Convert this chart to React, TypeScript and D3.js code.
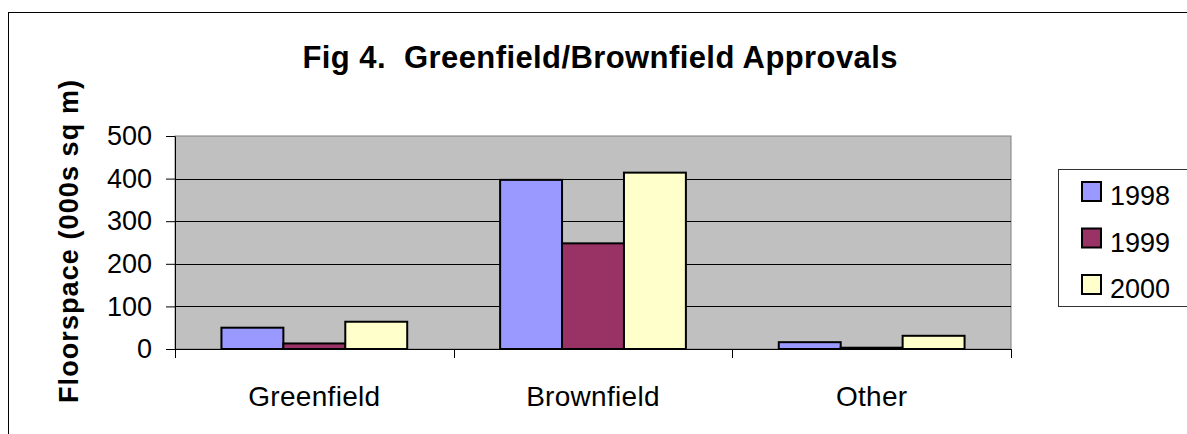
import * as React from "react";
import * as d3 from "d3";

const categories = ["Greenfield", "Brownfield", "Other"];
const years = ["1998", "1999", "2000"];
const values1998 = [50, 397, 16];
const values1999 = [13, 248, 3];
const values2000 = [64, 414, 31];
const yTicks = [0, 100, 200, 300, 400, 500];
const yearColors = ["#9999ff", "#993366", "#ffffcc"];

export default function App() {
  const ref = React.useRef<SVGSVGElement>(null);

  React.useEffect(() => {
    const svg = d3.select(ref.current);
    svg.selectAll("*").remove();

    const font = "Arial, 'Liberation Sans', sans-serif";
    const left = 175;
    const right = 1011;
    const top = 136;
    const bottom = 349;
    const series = [values1998, values1999, values2000];

    const x = d3.scaleBand().domain(categories).range([left, right]);
    const xs = d3
      .scaleBand()
      .domain(years)
      .range([0, x.bandwidth()])
      .paddingOuter(0.75);
    const y = d3.scaleLinear().domain([0, 500]).range([bottom, top]);

    // outer frame
    svg
      .append("rect")
      .attr("x", 8.5)
      .attr("y", 12.5)
      .attr("width", 1300)
      .attr("height", 600)
      .attr("fill", "white")
      .attr("stroke", "black");

    // plot area
    svg
      .append("rect")
      .attr("x", left)
      .attr("y", top)
      .attr("width", right - left)
      .attr("height", bottom - top)
      .attr("fill", "#c0c0c0")
      .attr("stroke", "#808080");

    svg
      .append("g")
      .selectAll("line")
      .data(yTicks.filter((t) => t > 0 && t < 500))
      .enter()
      .append("line")
      .attr("x1", left)
      .attr("x2", right)
      .attr("y1", (d) => Math.round(y(d)) + 0.5)
      .attr("y2", (d) => Math.round(y(d)) + 0.5)
      .attr("stroke", "black");

    // bars
    categories.forEach((c, ci) => {
      years.forEach((yr, si) => {
        const v = series[si][ci];
        svg
          .append("rect")
          .attr("x", x(c)! + xs(yr)!)
          .attr("y", y(v))
          .attr("width", xs.bandwidth())
          .attr("height", bottom - y(v))
          .attr("fill", yearColors[si])
          .attr("stroke", "black")
          .attr("stroke-width", 2);
      });
    });

    // y axis
    const yAxis = svg
      .append("g")
      .attr("transform", `translate(${left},0)`)
      .call(
        d3
          .axisLeft(y)
          .tickValues(yTicks)
          .tickSize(9)
          .tickSizeOuter(0)
          .tickPadding(14)
      );
    yAxis.selectAll("path, line").attr("stroke", "black");
    yAxis
      .selectAll("text")
      .attr("font-family", font)
      .attr("font-size", 27)
      .attr("fill", "black");

    // x axis
    svg
      .append("line")
      .attr("x1", left)
      .attr("x2", right)
      .attr("y1", bottom + 0.5)
      .attr("y2", bottom + 0.5)
      .attr("stroke", "black");
    const bounds = categories.map((c) => x(c)!).concat([right]);
    svg
      .append("g")
      .selectAll("line")
      .data(bounds)
      .enter()
      .append("line")
      .attr("x1", (d) => Math.round(d) + 0.5)
      .attr("x2", (d) => Math.round(d) + 0.5)
      .attr("y1", bottom)
      .attr("y2", bottom + 9)
      .attr("stroke", "black");
    svg
      .append("g")
      .selectAll("text")
      .data(categories)
      .enter()
      .append("text")
      .attr("x", (d) => x(d)! + x.bandwidth() / 2)
      .attr("y", 406)
      .attr("text-anchor", "middle")
      .attr("font-family", font)
      .attr("font-size", 28)
      .attr("letter-spacing", 0.3)
      .text((d) => d);

    // title
    svg
      .append("text")
      .attr("x", 600)
      .attr("y", 68)
      .attr("text-anchor", "middle")
      .attr("font-family", font)
      .attr("font-weight", "bold")
      .attr("font-size", 31)
      .attr("textLength", 595)
      .attr("lengthAdjust", "spacing")
      .style("white-space", "pre")
      .text("Fig 4.  Greenfield/Brownfield Approvals");

    // y label
    svg
      .append("text")
      .attr("transform", "translate(78,241.5) rotate(-90)")
      .attr("text-anchor", "middle")
      .attr("font-family", font)
      .attr("font-weight", "bold")
      .attr("font-size", 27)
      .attr("textLength", 323)
      .attr("lengthAdjust", "spacing")
      .text("Floorspace (000s sq m)");

    // legend
    svg
      .append("rect")
      .attr("x", 1058.5)
      .attr("y", 169.5)
      .attr("width", 200)
      .attr("height", 137)
      .attr("fill", "white")
      .attr("stroke", "#333");
    const ly = d3.scalePoint().domain(years).range([182, 275]);
    const items = svg
      .append("g")
      .selectAll("g")
      .data(years)
      .enter()
      .append("g");
    items
      .append("rect")
      .attr("x", 1082)
      .attr("y", (d) => ly(d)!)
      .attr("width", 19)
      .attr("height", 19)
      .attr("fill", (d, i) => yearColors[i])
      .attr("stroke", "black")
      .attr("stroke-width", 2);
    items
      .append("text")
      .attr("x", 1110)
      .attr("y", (d) => ly(d)! + 23)
      .attr("font-family", font)
      .attr("font-size", 27)
      .text((d) => d);
  }, []);

  return (
    <svg
      ref={ref}
      width={1187}
      height={434}
      style={{ position: "absolute", left: 0, top: 0 }}
    />
  );
}
